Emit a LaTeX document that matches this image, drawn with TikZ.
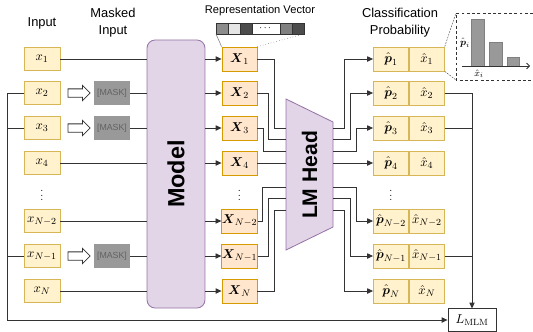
\documentclass[tikz,border=0pt]{standalone}
\usepackage{amsmath}
\usepackage{fontspec}
\setsansfont{Liberation Sans}
\usetikzlibrary{arrows.meta, positioning, shapes.arrows}

\definecolor{infill}{HTML}{FFF2CC}
\definecolor{inborder}{HTML}{D6B656}
\definecolor{hidfill}{HTML}{FFE6CC}
\definecolor{hidborder}{HTML}{D79B00}
\definecolor{modfill}{HTML}{E1D5E7}
\definecolor{modborder}{HTML}{9673A6}

\begin{document}
\begin{tikzpicture}[x=0.03cm, y=-0.03cm, font=\fontsize{11}{14.5}\selectfont,
  wire/.style={draw=black!80, line width=0.7pt},
  arr/.style={wire, -{Triangle[length=5pt, width=4.5pt]}},
  inbox/.style={draw=inborder, fill=infill, line width=0.7pt, minimum width=30.7pt, minimum height=20pt, inner sep=0pt},
  hidbox/.style={draw=hidborder, fill=hidfill, line width=0.7pt, minimum width=29.9pt, minimum height=20.5pt, inner sep=0pt},
  outbox/.style={inbox, minimum width=29.9pt, minimum height=20.5pt},
  maskbox/.style={fill=black!40, text=black!62, minimum width=30.7pt, minimum height=20.5pt, inner sep=0pt,
    font=\sffamily\fontsize{7.5}{9}\selectfont},
  hollow/.style={single arrow, draw=black!80, fill=white, line width=0.7pt, minimum height=18.8pt,
    inner sep=3.2pt, single arrow head extend=3pt},
  vdot/.style={inner sep=0pt, font=\fontsize{9}{9}\selectfont},
  head/.style={font=\sffamily\fontsize{11}{14.5}\selectfont, align=center}]
  \useasboundingbox (0,0) rectangle (533,331);

  % headers
  \node[head] (hin) at (42,23) {Input};
  \node[head] (hmask) at (113,23) {Masked\\Input};
  \node[head] (hcls) at (400,23) {Classification\\Probability};
  \node[font=\sffamily\fontsize{9.5}{11}\selectfont] (hvec) at (260,11) {Representation Vector};

  % inputs
  \node[inbox] (x1) at (42,59) {$x_1$};
  \node[inbox] (x2) at (42,93) {$x_2$};
  \node[inbox] (x3) at (42,128) {$x_3$};
  \node[inbox] (x4) at (42,163) {$x_4$};
  \node[vdot] (xd) at (42,192) {$\vdots$};
  \node[inbox] (xn2) at (42,221) {$x_{N-2}$};
  \node[inbox] (xn1) at (42,256) {$x_{N-1}$};
  \node[inbox] (xN) at (42,291) {$x_N$};

  % masking
  \node[hollow] (ha2) at (77,93) {};
  \node[hollow] (ha3) at (77,128) {};
  \node[hollow] (han1) at (77,256) {};
  \node[maskbox] (m2) at (112,93) {[MASK]};
  \node[maskbox] (m3) at (112,128) {[MASK]};
  \node[maskbox] (mn1) at (112,256) {[MASK]};

  % model
  \node[draw=modborder, fill=modfill, line width=0.7pt, rounded corners=7pt, minimum width=49.5pt,
    minimum height=228.8pt] (model) at (176,174) {};
  \node[rotate=90, font=\sffamily\bfseries\fontsize{20}{24}\selectfont] at (model) {Model};

  \draw[wire] (x1.east) -- (x1.east -| model.west);
  \draw[wire] (m2.east) -- (m2.east -| model.west);
  \draw[wire] (m3.east) -- (m3.east -| model.west);
  \draw[wire] (x4.east) -- (x4.east -| model.west);
  \draw[wire] (xn2.east) -- (xn2.east -| model.west);
  \draw[wire] (mn1.east) -- (mn1.east -| model.west);
  \draw[wire] (xN.east) -- (xN.east -| model.west);

  % representations
  \node[hidbox] (h1) at (239.5,59) {$\boldsymbol{X}_1$};
  \node[hidbox] (h2) at (239.5,93) {$\boldsymbol{X}_2$};
  \node[hidbox] (h3) at (239.5,128) {$\boldsymbol{X}_3$};
  \node[hidbox] (h4) at (239.5,163) {$\boldsymbol{X}_4$};
  \node[vdot] (hd) at (239.5,192) {$\vdots$};
  \node[hidbox] (hn2) at (239.5,221) {$\boldsymbol{X}_{N-2}$};
  \node[hidbox] (hn1) at (239.5,256) {$\boldsymbol{X}_{N-1}$};
  \node[hidbox] (hN) at (239.5,291) {$\boldsymbol{X}_N$};

  \draw[arr] (model.east |- h1) -- (h1.west);
  \draw[arr] (model.east |- h2) -- (h2.west);
  \draw[arr] (model.east |- h3) -- (h3.west);
  \draw[arr] (model.east |- h4) -- (h4.west);
  \draw[arr] (model.east |- hn2) -- (hn2.west);
  \draw[arr] (model.east |- hn1) -- (hn1.west);
  \draw[arr] (model.east |- hN) -- (hN.west);

  % vector
  \filldraw[draw=black!80, fill=black!45] (216,23) rectangle (228,34);
  \filldraw[draw=black!80, fill=black!10] (228,23) rectangle (240,34);
  \filldraw[draw=black!80, fill=black!70] (240,23) rectangle (252,34);
  \filldraw[draw=black!80, fill=white] (252,23) rectangle (280,34);
  \filldraw[draw=black!80, fill=black!50] (280,23) rectangle (292,34);
  \filldraw[draw=black!80, fill=black!70] (292,23) rectangle (304,34);
  \node[font=\fontsize{8}{9}\selectfont] at (266,28) {$\cdots$};
  \coordinate (vecL) at (216,34);
  \coordinate (vecR) at (304,34);
  \draw[black!60, thin] (vecL) -- (h1.north west);
  \draw[black!70, thin, dotted] (vecR) -- (h1.north east);

  % LM head
  \draw[draw=modborder, fill=modfill, line width=0.7pt] (286,99) -- (333,122) -- (333,227) -- (286,250) -- cycle;
  \node[rotate=90, font=\sffamily\bfseries\fontsize{18}{22}\selectfont] at (309.5,175) {LM Head};
  \coordinate (li1) at (286,128);
  \coordinate (li2) at (286,139);
  \coordinate (li3) at (286,151);
  \coordinate (li4) at (286,163);
  \coordinate (li5) at (286,187);
  \coordinate (li6) at (286,198);
  \coordinate (li7) at (286,210);
  \coordinate (lo1) at (333,128);
  \coordinate (lo2) at (333,139);
  \coordinate (lo3) at (333,151);
  \coordinate (lo4) at (333,163);
  \coordinate (lo5) at (333,187);
  \coordinate (lo6) at (333,198);
  \coordinate (lo7) at (333,210);

  \draw[wire] (h1.east) -- ++(17,0) |- (li1);
  \draw[wire] (h2.east) -- ++(11,0) |- (li2);
  \draw[wire] (h3.east) -- ++(6,0) |- (li3);
  \draw[wire] (h4.east) -- (li4);
  \draw[wire] (hn2.east) -- ++(5,0) |- (li5);
  \draw[wire] (hn1.east) -- ++(11,0) |- (li6);
  \draw[wire] (hN.east) -- ++(17,0) |- (li7);

  % outputs
  \node[outbox] (p1) at (391,59) {$\hat{\boldsymbol p}_1$};
  \node[outbox, right=0pt of p1] (q1) {$\hat{x}_1$};
  \node[outbox] (p2) at (391,93) {$\hat{\boldsymbol p}_2$};
  \node[outbox, right=0pt of p2] (q2) {$\hat{x}_2$};
  \node[outbox] (p3) at (391,128) {$\hat{\boldsymbol p}_3$};
  \node[outbox, right=0pt of p3] (q3) {$\hat{x}_3$};
  \node[outbox] (p4) at (391,163) {$\hat{\boldsymbol p}_4$};
  \node[outbox, right=0pt of p4] (q4) {$\hat{x}_4$};
  \node[vdot] (pd) at (391,192) {$\vdots$};
  \node[outbox] (pn2) at (391,221) {$\hat{\boldsymbol p}_{N-2}$};
  \node[outbox, right=0pt of pn2] (qn2) {$\hat{x}_{N-2}$};
  \node[outbox] (pn1) at (391,256) {$\hat{\boldsymbol p}_{N-1}$};
  \node[outbox, right=0pt of pn1] (qn1) {$\hat{x}_{N-1}$};
  \node[outbox] (pN) at (391,291) {$\hat{\boldsymbol p}_N$};
  \node[outbox, right=0pt of pN] (qN) {$\hat{x}_N$};

  \draw[arr] (lo1) -- ++(11,0) |- (p1.west);
  \draw[arr] (lo2) -- ++(17,0) |- (p2.west);
  \draw[arr] (lo3) -- ++(23,0) |- (p3.west);
  \draw[arr] (lo4) -- (p4.west);
  \draw[arr] (lo5) -- ++(23,0) |- (pn2.west);
  \draw[arr] (lo6) -- ++(17,0) |- (pn1.west);
  \draw[arr] (lo7) -- ++(11,0) |- (pN.west);

  % histogram inset
  \coordinate (insTL) at (456,13);
  \coordinate (insBL) at (456,80);
  \draw[black!80, dash pattern=on 2.5pt off 2pt] (533,13) -- (insTL) -- (insBL) -- (533,80);
  \draw[black!70, thin, dash pattern=on 1.5pt off 1pt] (q1.north east) -- (insTL);
  \draw[black!70, thin, dash pattern=on 1.5pt off 1pt] (q1.south east) -- (insBL);
  \filldraw[draw=black!50, fill=black!40] (471,19) rectangle (484,66);
  \filldraw[draw=black!50, fill=black!40] (489,42) rectangle (502,66);
  \filldraw[draw=black!50, fill=black!40] (507,57) rectangle (519,66);
  \draw[black!80, line width=0.7pt, -{Straight Barb[length=2.5pt]}] (462,66) -- (530,66);
  \node[font=\footnotesize, inner sep=0pt] at (465,43) {$\hat{\boldsymbol p}_i$};
  \node[font=\footnotesize, inner sep=0pt] at (479,74) {$\hat{x}_i$};

  % loss
  \node[draw=black!80, fill=white, line width=0.7pt, minimum width=41pt, minimum height=19pt, inner sep=0pt]
    (lmlm) at (472,320) {$L_{\mathrm{MLM}}$};
  \coordinate (loop) at (7,320);
  \draw[arr] (x2.west) -| (loop) -- (lmlm.west);
  \draw[wire] (x3.west) -- (x3.west -| loop);
  \draw[wire] (xn1.west) -- (xn1.west -| loop);
  \draw[arr] (q2.east) -| (lmlm.north);
  \draw[wire] (q3.east) -- (q3.east -| lmlm.north);
  \draw[wire] (qn1.east) -- (qn1.east -| lmlm.north);
\end{tikzpicture}
\end{document}
